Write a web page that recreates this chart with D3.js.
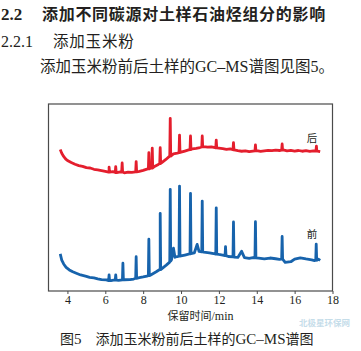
<!DOCTYPE html>
<html>
<head>
<meta charset="utf-8">
<script src="https://cdn.jsdelivr.net/npm/d3@7"></script>
<style>
  body { margin: 0; background: #fff; }
  svg text { fill: #231f20; }
  .cjk { font-family: "Noto Sans CJK SC", sans-serif; }
  .num { font-family: "Liberation Serif", "DejaVu Serif", serif; }
</style>
</head>
<body>
<svg id="chart" width="361" height="351"></svg>
<script>
// retention time (min) ticks
const xTicks = [4, 6, 8, 10, 12, 14, 16, 18];

// "后" trace baseline: [time, signal]
const afterBase = [
  [3.62, 75.5], [3.7, 73.5], [3.8, 71.8], [3.9, 70.5], [4.0, 69.6], [4.2, 68.5], [4.4, 67.6],
  [4.6, 66.9], [4.8, 66.5], [5.0, 65.8], [5.2, 65.6], [5.4, 64.9], [5.6, 64.6], [5.8, 64.2],
  [6.0, 63.8], [6.2, 63.4], [6.4, 63.6], [6.6, 63.1], [6.8, 63.5], [7.0, 63.0], [7.2, 63.4],
  [7.4, 63.2], [7.6, 63.5], [7.8, 63.8], [8.0, 64.3], [8.2, 65.0], [8.4, 65.6], [8.6, 66.4],
  [8.8, 67.5], [9.0, 68.6], [9.2, 70.2], [9.4, 72.0], [9.6, 73.2], [9.8, 73.6], [10.0, 74.1],
  [10.2, 74.7], [10.4, 75.3], [10.6, 75.9], [10.8, 76.2], [11.0, 76.6], [11.2, 77.1], [11.4, 76.8],
  [11.6, 77.0], [11.8, 76.5], [12.0, 76.3], [12.2, 76.0], [12.4, 75.6], [12.6, 75.9], [12.8, 75.3],
  [13.0, 74.9], [13.2, 74.6], [13.4, 74.8], [13.6, 74.4], [13.8, 74.7], [14.0, 74.9], [14.2, 74.5],
  [14.4, 74.8], [14.6, 75.1], [14.8, 74.9], [15.0, 75.2], [15.2, 75.0], [15.4, 75.3], [15.6, 74.8],
  [15.8, 75.1], [16.0, 74.7], [16.2, 75.0], [16.4, 74.6], [16.6, 74.9], [16.8, 74.5], [17.0, 74.8],
  [17.2, 74.7], [17.35, 74.4]
];
// "后" trace peaks: [time, base, top]
const afterPeaks = [
  [6.2, 63.4, 66.0], [6.55, 63.2, 66.3], [6.89, 63.4, 68.3], [7.63, 63.5, 69.0], [8.3, 65.1, 73.8],
  [8.48, 65.6, 76.3], [8.9, 68.0, 76.5], [9.43, 72.0, 92.3], [9.92, 73.9, 83.3], [10.5, 75.5, 82.8],
  [11.12, 76.9, 82.8], [11.86, 76.4, 80.6], [12.77, 75.4, 79.2], [13.93, 74.8, 78.0],
  [15.34, 75.2, 78.5], [17.15, 74.7, 77.4]
];

// "前" trace baseline: [time, signal]
const beforeBase = [
  [3.62, 19.4], [3.7, 16.1], [3.8, 14.0], [3.93, 12.2], [4.1, 10.8], [4.28, 9.8], [4.5, 8.9],
  [4.7, 8.1], [5.0, 7.3], [5.17, 6.8], [5.4, 6.5], [5.6, 6.0], [5.8, 5.6], [6.05, 5.4],
  [6.3, 5.1], [6.5, 5.4], [6.7, 5.2], [7.0, 5.5], [7.3, 5.6], [7.5, 5.9], [7.8, 6.6],
  [8.0, 7.0], [8.2, 7.5], [8.4, 8.1], [8.69, 9.8], [8.9, 11.0], [9.22, 13.4], [9.4, 15.0],
  [9.5, 16.4], [9.6, 22.5], [9.68, 17.6], [9.8, 18.0], [10.0, 18.3], [10.2, 18.8], [10.45, 19.4],
  [10.7, 19.9], [10.85, 24.5], [10.95, 20.8], [11.2, 20.4], [11.5, 20.0], [11.8, 19.4], [12.0, 19.1],
  [12.2, 18.8], [12.5, 18.0], [12.8, 17.7], [13.0, 17.5], [13.2, 20.8], [13.35, 17.4], [13.6, 17.0],
  [13.8, 17.4], [14.1, 17.1], [14.4, 16.7], [14.7, 17.2], [15.0, 16.8], [15.2, 16.5], [15.5, 14.8],
  [15.8, 15.2], [16.0, 16.6], [16.3, 17.3], [16.6, 16.7], [16.9, 16.2], [17.05, 15.8], [17.25, 16.6],
  [17.35, 15.9]
];
// "前" trace peaks: [time, base, top]
const beforePeaks = [
  [6.2, 5.1, 8.1], [6.55, 5.3, 8.1], [6.93, 5.5, 14.4], [7.63, 6.3, 17.9], [8.3, 7.7, 27.3],
  [8.9, 11.0, 41.2], [9.43, 15.5, 54.1], [9.92, 18.2, 55.9], [10.5, 19.5, 52.0], [11.12, 20.5, 47.8],
  [11.86, 19.3, 44.2], [12.35, 18.5, 23.3], [12.77, 17.8, 36.6], [13.93, 17.3, 36.7],
  [15.34, 16.6, 28.8], [17.14, 16.0, 24.7]
];

const traceLabels = ["后", "前"];

const plot = { left: 48.5, right: 332.5, top: 104, bottom: 291 };

const x = d3.scaleLinear().domain([3, 18]).range([plot.left, plot.right]);
const y = d3.scaleLinear().domain([0, 100]).range([plot.bottom - 1, plot.top]);

// put peaks into the baseline as narrow spikes
const buildTrace = (base, peaks) => {
  const pts = base.slice();
  peaks.forEach(([t, b, top]) => {
    pts.push([t - 0.025, b], [t, top], [t + 0.025, b]);
  });
  return pts.sort((a, b) => a[0] - b[0]);
};

const svg = d3.select('#chart');

// headings
svg.append('text').attr('class', 'num').attr('x', 1).attr('y', 20)
  .attr('font-size', 17).attr('font-weight', 'bold').text('2.2');
svg.append('text').attr('class', 'cjk').attr('x', 42).attr('y', 20)
  .attr('font-size', 16).attr('font-weight', 'bold').attr('letter-spacing', 0.7)
  .text('添加不同碳源对土样石油烃组分的影响');
svg.append('text').attr('class', 'num').attr('x', 1).attr('y', 47)
  .attr('font-size', 16).text('2.2.1');
svg.append('text').attr('class', 'cjk').attr('x', 53).attr('y', 47)
  .attr('font-size', 15.5).attr('letter-spacing', 0.8).text('添加玉米粉');

const intro = svg.append('text').attr('x', 40).attr('y', 72).attr('font-size', 15.5);
intro.append('tspan').attr('class', 'cjk').text('添加玉米粉前后土样的');
intro.append('tspan').attr('class', 'num').attr('font-size', 16).text('GC–MS');
intro.append('tspan').attr('class', 'cjk').text('谱图见图');
intro.append('tspan').attr('class', 'num').attr('font-size', 16).text('5');
intro.append('tspan').attr('class', 'cjk').text('。');

// frame
svg.append('rect')
  .attr('x', plot.left).attr('y', plot.top)
  .attr('width', plot.right - plot.left).attr('height', plot.bottom - plot.top)
  .attr('fill', 'none').attr('stroke', '#4a4a4a').attr('stroke-width', 1.2);

// traces
const line = d3.line().x(d => x(d[0])).y(d => y(d[1]));

svg.append('path')
  .attr('d', line(buildTrace(afterBase, afterPeaks)))
  .attr('fill', 'none').attr('stroke', '#e41e2d').attr('stroke-width', 2.8)
  .attr('stroke-linejoin', 'round');

svg.append('path')
  .attr('d', line(buildTrace(beforeBase, beforePeaks)))
  .attr('fill', 'none').attr('stroke', '#1763ac').attr('stroke-width', 2.8)
  .attr('stroke-linejoin', 'round');

svg.append('text').attr('class', 'cjk').attr('x', 312).attr('y', 142)
  .attr('font-size', 10.5).attr('text-anchor', 'middle').attr('fill', '#333').text(traceLabels[0]);
svg.append('text').attr('class', 'cjk').attr('x', 312).attr('y', 238)
  .attr('font-size', 10.5).attr('text-anchor', 'middle').attr('fill', '#333').text(traceLabels[1]);

// x axis
const xAxis = d3.axisBottom(x).tickValues(xTicks).tickSize(3).tickPadding(1);
const gx = svg.append('g').attr('transform', `translate(0,${plot.bottom})`).call(xAxis);
gx.select('.domain').remove();
gx.selectAll('line').attr('stroke', '#4a4a4a');
gx.selectAll('text').attr('class', 'num').attr('font-size', 12).attr('fill', '#231f20');

svg.append('text').attr('x', (plot.left + plot.right) / 2 + 10).attr('y', 320)
  .attr('font-size', 11).attr('text-anchor', 'middle')
  .call(t => {
    t.append('tspan').attr('class', 'cjk').text('保留时间');
    t.append('tspan').attr('class', 'num').attr('font-size', 12).text('/min');
  });

// caption
const cap = svg.append('text').attr('x', 60).attr('y', 344).attr('font-size', 14);
cap.append('tspan').attr('class', 'cjk').text('图');
cap.append('tspan').attr('class', 'num').attr('font-size', 15).text('5');
cap.append('tspan').attr('class', 'cjk').attr('dx', 14).text('添加玉米粉前后土样的');
cap.append('tspan').attr('class', 'num').attr('font-size', 15).text('GC–MS');
cap.append('tspan').attr('class', 'cjk').text('谱图');

// faint watermark
svg.append('text').attr('class', 'cjk').attr('x', 299).attr('y', 326)
  .attr('font-size', 8.5).attr('font-weight', 'bold').style('fill', '#9fc7dc').attr('opacity', 0.6)
  .text('北极星环保网');
</script>
</body>
</html>
